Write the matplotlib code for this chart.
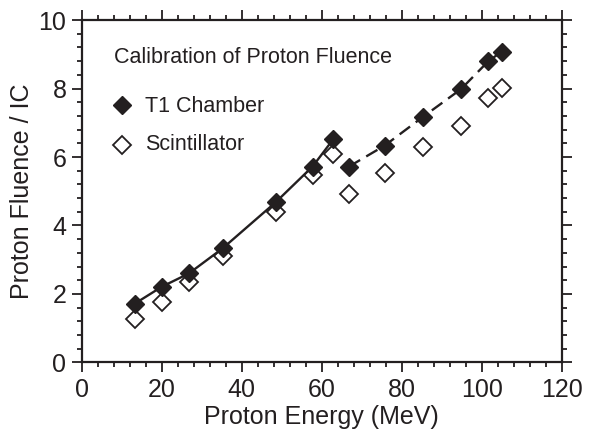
import matplotlib
matplotlib.use("Agg")
import matplotlib.pyplot as plt
from matplotlib.ticker import MultipleLocator

plt.rcParams['font.family'] = ['Liberation Sans', 'DejaVu Sans']

# T1 chamber (filled diamonds), split into solid and dashed segments
t1_energy_a = [13.3, 20.0, 26.8, 35.2, 48.5, 57.7, 62.9]
t1_fluence_a = [1.72, 2.21, 2.60, 3.33, 4.68, 5.72, 6.52]
t1_energy_b = [66.8, 75.7, 85.4, 94.8, 101.6, 105.0]
t1_fluence_b = [5.72, 6.33, 7.18, 7.98, 8.79, 9.08]

# Scintillator (open diamonds)
sc_energy = [13.3, 20.0, 26.8, 35.2, 48.5, 57.7, 62.9, 66.8, 75.7, 85.4, 94.8, 101.6, 105.0]
sc_fluence = [1.27, 1.77, 2.36, 3.11, 4.40, 5.48, 6.09, 4.91, 5.53, 6.30, 6.91, 7.72, 8.01]

x_ticks = [0, 20, 40, 60, 80, 100, 120]
y_ticks = [0, 2, 4, 6, 8, 10]

ink = '#231f20'
fig = plt.figure(figsize=(5.89, 4.36), dpi=100)
ax = fig.add_axes([0.1387, 0.1686, 0.8150, 0.7855])

ms = 9.5
ax.plot(sc_energy, sc_fluence, linestyle='none', marker='D', ms=ms,
        mfc='white', mec=ink, mew=1.3, zorder=2)
ax.plot(t1_energy_a, t1_fluence_a, '-', color=ink, lw=1.7, marker='D', ms=ms,
        mfc=ink, mec=ink, zorder=3)
ax.plot(t1_energy_b, t1_fluence_b, color=ink, lw=1.7, dashes=(5.5, 3), marker='D', ms=ms,
        mfc=ink, mec=ink, zorder=3)

ax.set_xlim(0, 120)
ax.set_ylim(0, 10)
ax.set_xticks(x_ticks)
ax.set_yticks(y_ticks)
ax.xaxis.set_minor_locator(MultipleLocator(4))
ax.yaxis.set_minor_locator(MultipleLocator(0.4))
ax.tick_params(which='both', direction='out', top=True, right=True,
               labeltop=False, labelright=False, color=ink, width=1.3)
ax.tick_params(which='major', length=7, labelsize=18, pad=4, labelcolor=ink)
ax.tick_params(which='minor', length=3.5)
for s in ax.spines.values():
    s.set_linewidth(1.6)
    s.set_color(ink)

ax.set_xlabel('Proton Energy (MeV)', fontsize=18, color=ink, labelpad=2)
ax.set_ylabel('Proton Fluence / IC', fontsize=18, color=ink, labelpad=3)

# in-plot legend
ax.text(0.068, 0.875, 'Calibration of Proton Fluence', transform=ax.transAxes,
        fontsize=15.5, color=ink, va='baseline')
ax.plot([0.083], [0.752], transform=ax.transAxes, marker='D', ms=ms,
        mfc=ink, mec=ink, linestyle='none', clip_on=False)
ax.text(0.132, 0.730, 'T1 Chamber', transform=ax.transAxes,
        fontsize=15.5, color=ink, va='baseline')
ax.plot([0.083], [0.635], transform=ax.transAxes, marker='D', ms=ms,
        mfc='white', mec=ink, mew=1.3, linestyle='none', clip_on=False)
ax.text(0.132, 0.619, 'Scintillator', transform=ax.transAxes,
        fontsize=15.5, color=ink, va='baseline')

fig.savefig('out.png', dpi=100)
